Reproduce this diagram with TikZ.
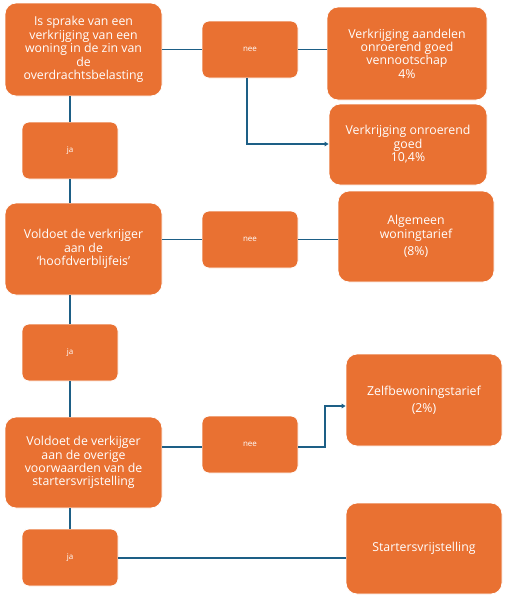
\documentclass[tikz,border=0pt]{standalone}
\usepackage{fontspec}
\setmainfont{Open Sans}
\usetikzlibrary{arrows.meta}
\definecolor{boxor}{HTML}{E97132}
\definecolor{linebl}{HTML}{1D5F86}
\tikzset{
  box/.style={fill=boxor, draw=white, line width=0.8pt, rounded corners=11pt, text=white, align=center,
    font=\fontsize{12.3}{13.4}\selectfont, inner sep=0pt},
  small/.style={fill=boxor, draw=white, line width=0.8pt, rounded corners=7pt, text=white, align=center,
    font=\fontsize{8}{9}\selectfont, inner sep=0pt},
  conn/.style={draw=linebl, line width=1.6pt},
  arr/.style={conn, -{Triangle[length=4pt,width=4.5pt]}}
}
\begin{document}
\begin{tikzpicture}[x=1pt,y=-1pt]
\useasboundingbox (0,0) rectangle (507,600);
% main question boxes
\node[box, minimum width=157pt, minimum height=93pt] (q1) at (83.5,49.5) {Is sprake van een\\verkrijging van een\\woning in de zin van\\de\\overdrachtsbelasting};
\node[box, minimum width=157pt, minimum height=92pt] (q2) at (83.5,249) {Voldoet de verkrijger\\aan de\\‘hoofdverblijfeis’};
\node[box, minimum width=157pt, minimum height=91pt] (q3) at (83.5,462.5) {Voldoet de verkijger\\aan de overige\\voorwaarden van de\\startersvrijstelling};
% ja boxes
\node[small, minimum width=96pt, minimum height=57pt] (ja1) at (70,150.5) {ja};
\node[small, minimum width=96pt, minimum height=57pt] (ja2) at (70,352.5) {ja};
\node[small, minimum width=96pt, minimum height=57pt] (ja3) at (70,557.5) {ja};
% nee boxes
\node[small, minimum width=96pt, minimum height=57pt] (nee1) at (250,49.5) {nee};
\node[small, minimum width=96pt, minimum height=57pt] (nee2) at (250,239.5) {nee};
\node[small, minimum width=96pt, minimum height=57pt] (nee3) at (250,444.5) {nee};
% outcome boxes
\node[box, minimum width=160pt, minimum height=93pt] (r1) at (407,53.5) {Verkrijging aandelen\\onroerend goed\\vennootschap\\4\%};
\node[box, minimum width=158pt, minimum height=81pt] (r2) at (408,144.5) {Verkrijging onroerend\\goed\\10,4\%};
\node[box, minimum width=156pt, minimum height=91pt] (r3) at (416,236.5) {Algemeen\\woningtarief\\[4pt](8\%)};
\node[box, minimum width=156pt, minimum height=92pt] (r4) at (424,400) {Zelfbewoningstarief\\[4pt](2\%)};
\node[box, minimum width=156pt, minimum height=91pt] (r5) at (424,548.5) {Startersvrijstelling};
% connectors
\draw[conn] (q1.south -| ja1) -- (ja1.north);
\draw[conn] (ja1.south) -- (q2.north -| ja1);
\draw[conn] (q2.south -| ja2) -- (ja2.north);
\draw[conn] (ja2.south) -- (q3.north -| ja2);
\draw[conn] (q3.south -| ja3) -- (ja3.north);
\draw[conn] (q1.east |- nee1) -- (nee1.west);
\draw[conn] (nee1.east) -- (r1.west |- nee1);
\coordinate (c1) at (247,144);
\draw[arr] (nee1.south -| c1) -- (c1) -- (r2.west |- c1);
\draw[conn] (q2.east |- nee2) -- (nee2.west);
\draw[conn] (nee2.east) -- (r3.west |- nee2);
\draw[conn] (q3.east |- 0,447) -- (nee3.west |- 0,447);
\coordinate (c2) at (325,447);
\coordinate (c3) at (325,406);
\draw[arr] (nee3.east |- c2) -- (c2) -- (c3) -- (r4.west |- c3);
\draw[conn] (ja3.east |- 0,558) -- (r5.west |- 0,558);
\end{tikzpicture}
\end{document}
